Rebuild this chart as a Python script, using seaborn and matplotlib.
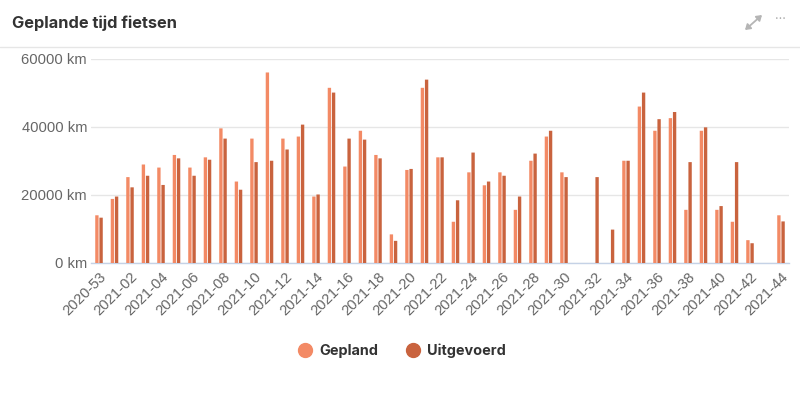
import numpy as np
import pandas as pd
import matplotlib.pyplot as plt
import seaborn as sns
from matplotlib.lines import Line2D

weeks = ['2020-53'] + ['2021-%02d' % w for w in range(1, 45)]

gepland = [14000, 18800, 25200, 28900, 28000, 31700, 28000, 31000, 39500, 23900,
           36500, 55900, 36500, 37100, 19500, 51400, 28300, 38800, 31700, 8400,
           27300, 51400, 31000, 12100, 26600, 22800, 26600, 15600, 30000, 37100,
           26600, np.nan, np.nan, np.nan, 30000, 45900, 38800, 42500, 15600, 38800,
           15600, 12100, 6700, np.nan, 14000]
uitgevoerd = [13300, 19500, 22200, 25600, 22900, 30700, 25600, 30300, 36500, 21500,
              29600, 30000, 33300, 40600, 20100, 50000, 36500, 36200, 30700, 6500,
              27600, 53800, 31000, 18400, 32400, 23900, 25600, 19500, 32100, 38800,
              25200, np.nan, 25200, 9800, 30000, 50000, 42200, 44300, 29600, 39800,
              16700, 29600, 5800, np.nan, 12200]

yticks = [0, 20000, 40000, 60000]
colors = ['#F38A65', '#C9633E']

df = pd.DataFrame({'week': weeks, 'Gepland': gepland, 'Uitgevoerd': uitgevoerd})
df = df.melt(id_vars='week', var_name='soort', value_name='km')

sns.set_style('white')
plt.rcParams['font.family'] = ['Inter', 'DejaVu Sans']

fig = plt.figure(figsize=(8, 3.93), dpi=100)
ax = fig.add_axes([91.25 / 800, 1 - 263 / 393, 697.5 / 800, 204.5 / 393])

sns.barplot(data=df, x='week', y='km', hue='soort', palette=colors, width=0.54, gap=0.2,
            errorbar=None, linewidth=0, saturation=1, legend=False, zorder=3, ax=ax)
# thin bars come out uneven when snapped to whole pixels
for bar in ax.patches:
    bar.set_snap(False)

ax.set_xlim(-0.5, 44.5)
ax.set_ylim(0, 60000)
ax.set_xlabel('')
ax.set_ylabel('')
ax.set_yticks(yticks)
ax.set_yticklabels(['%d km' % v for v in yticks], fontsize=10.6, color='#666666',
                   family='Liberation Sans')
ax.set_xticks(range(0, 45, 2))
ax.set_xticklabels(weeks[::2], rotation=45, ha='right', rotation_mode='anchor',
                   fontsize=10.6, color='#666666', family='Liberation Sans')
ax.tick_params(axis='y', length=0, pad=3)
ax.tick_params(axis='x', length=0, pad=5)
ax.grid(axis='y', color='#E6E6E6', lw=1)
ax.set_axisbelow(True)
sns.despine(ax=ax, left=True)
ax.spines['bottom'].set_color('#C5D2E6')
ax.spines['bottom'].set_linewidth(1)

# header
fig.text(12 / 800, 1 - 23 / 393, 'Geplande tijd fietsen', fontsize=11.8, fontweight='bold',
         color='#333333', va='center', ha='left')
fig.add_artist(Line2D([0, 1], [1 - 47 / 393] * 2, color='#E6E6E6', lw=1))

# expand + menu icons
ax.annotate('', xy=(762 / 800, 1 - 15 / 393), xytext=(745 / 800, 1 - 30 / 393),
            xycoords='figure fraction', textcoords='figure fraction',
            arrowprops=dict(arrowstyle='<|-|>,head_width=0.2,head_length=0.3', color='#B5B5B5', lw=1.3,
                            shrinkA=0, shrinkB=0))
fig.text(780.5 / 800, 1 - 20 / 393, '···', fontsize=9, color='#A8A8A8', ha='center', va='center')

handles = [Line2D([], [], marker='o', ls='', ms=10, color=c) for c in colors]
fig.legend(handles, ['Gepland', 'Uitgevoerd'], loc='center', bbox_to_anchor=(398 / 800, 1 - 351 / 393),
           ncol=2, frameon=False, handletextpad=0.0, columnspacing=1.4,
           prop={'size': 10.4, 'weight': 'bold'}, labelcolor='#333333')

fig.savefig('out.png', dpi=100)
